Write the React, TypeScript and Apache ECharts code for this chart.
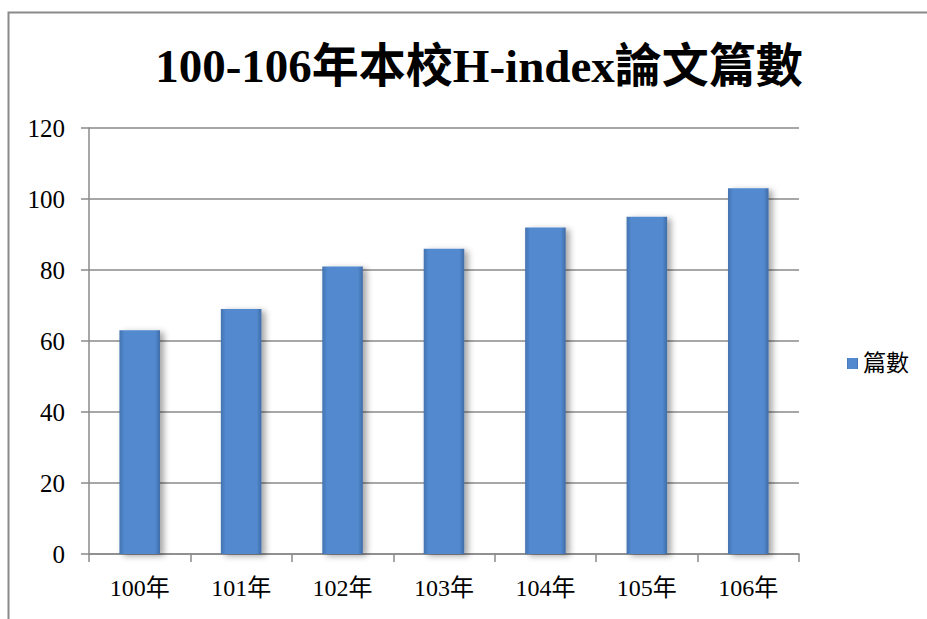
import React, { useEffect, useRef } from "react";
import * as echarts from "echarts";

const titleText = "100-106年本校H-index論文篇數";
const categories = ["100年", "101年", "102年", "103年", "104年", "105年", "106年"];
const seriesName = "篇數";
const values = [63, 69, 81, 86, 92, 95, 103];
const yMin = 0;
const yMax = 120;
const yStep = 20;

export default function App() {
  const ref = useRef<HTMLDivElement>(null);
  useEffect(() => {
    if (!ref.current) return;
    const chart = echarts.init(ref.current, undefined, { renderer: "svg" });
    const serif = "Liberation Serif, Times New Roman, Noto Sans CJK TC, serif";
    chart.setOption({
      animation: false,
      backgroundColor: "#ffffff",
      title: {
        text: titleText,
        left: 474,
        textAlign: "center",
        top: 37,
        textStyle: {
          fontFamily: serif,
          fontWeight: "bold",
          fontSize: 47,
          color: "#000",
        },
      },
      graphic: [
        {
          type: "rect",
          shape: { x: 8.5, y: 12.5, width: 940, height: 640 },
          style: { fill: "none", stroke: "#8a8a8a", lineWidth: 2 },
          silent: true,
          z: -1,
        },
      ],
      legend: {
        left: 842,
        top: 347,
        orient: "vertical",
        itemWidth: 11,
        itemHeight: 11,
        itemGap: 6,
        icon: "rect",
        textStyle: { fontFamily: serif, fontSize: 23, color: "#000" },
        data: [seriesName],
      },
      grid: { left: 89, right: 128, top: 128, bottom: 65, containLabel: false },
      xAxis: {
        type: "category",
        data: categories,
        axisLine: { show: true, lineStyle: { color: "#8a8a8a", width: 1.5 } },
        axisTick: { show: true, length: 8, inside: false, lineStyle: { color: "#8a8a8a", width: 1.5 } },
        axisLabel: { margin: 22, fontFamily: serif, fontSize: 24, color: "#000" },
      },
      yAxis: {
        type: "value",
        min: yMin,
        max: yMax,
        interval: yStep,
        axisLine: { show: true, lineStyle: { color: "#8a8a8a", width: 1.5 } },
        axisTick: { show: true, length: 8, lineStyle: { color: "#8a8a8a", width: 1.5 } },
        axisLabel: { margin: 24, fontFamily: serif, fontSize: 25, color: "#000" },
        splitLine: { show: true, lineStyle: { color: "#8a8a8a", width: 1.5 } },
      },
      series: [
        {
          name: seriesName,
          type: "bar",
          data: values,
          barCategoryGap: "60%",
          itemStyle: {
            color: new echarts.graphic.LinearGradient(0, 0, 1, 0, [
              { offset: 0, color: "#4473b0" },
              { offset: 0.12, color: "#5289cf" },
              { offset: 0.88, color: "#5289cf" },
              { offset: 1, color: "#406ca6" },
            ]),
            shadowBlur: 6,
            shadowOffsetX: 4,
            shadowOffsetY: 2,
            shadowColor: "rgba(0,0,0,0.35)",
          },
        },
      ],
    });
    return () => chart.dispose();
  }, []);
  return (
    <div
      ref={ref}
      style={{ position: "fixed", left: 0, top: 0, width: 927, height: 619 }}
    />
  );
}
